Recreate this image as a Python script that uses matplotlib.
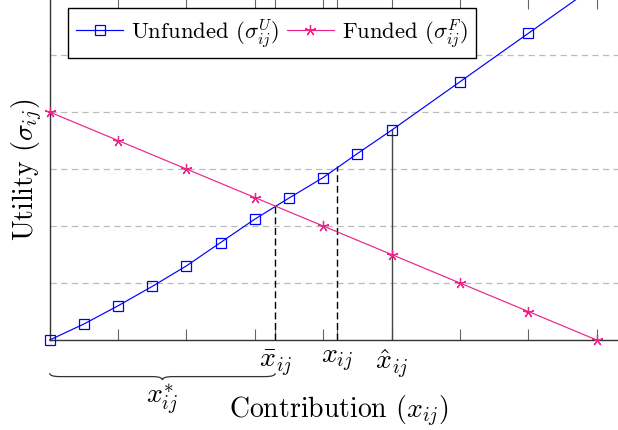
import matplotlib
matplotlib.use("Agg")
import matplotlib.pyplot as plt
from matplotlib.path import Path
from matplotlib.patches import PathPatch

# data
unfunded_x = [0, 0.5, 1, 1.5, 2, 2.5, 3, 3.5, 4, 4.5, 5, 6, 7, 8]
unfunded_y = [0, 0.28, 0.6, 0.94, 1.30, 1.71, 2.12, 2.49, 2.85, 3.27, 3.68, 4.53, 5.38, 6.23]
funded_x = [0, 1, 2, 3, 4, 5, 6, 7, 8]
funded_y = [4, 3.5, 3, 2.5, 2, 1.5, 1, 0.5, 0]

tick_pos = [1, 2, 3, 3.3, 4, 4.2, 5, 6, 7, 8]
tick_labels = ["", "", "", r"$\bar{x}_{ij}$", "", r"$x_{ij}$", r"$\hat{x}_{ij}$", "", "", ""]
grid_y = [1, 2, 3, 4, 5]

x_bar, x_bar_top = 3.3, 2.35
x_mid, x_mid_top = 4.2, 3.05
x_hat, x_hat_top = 5.0, 3.68

plt.rcParams["font.family"] = "serif"
plt.rcParams["font.serif"] = ["cmr10"]
plt.rcParams["mathtext.fontset"] = "cm"
plt.rcParams["axes.formatter.use_mathtext"] = True

BLUE = "#0000ff"
PINK = "#ee2288"

fig = plt.figure(figsize=(6.18, 4.31), dpi=100)
ax = fig.add_axes([0.0803, 0.2088, 0.935, 0.7935])
ax.set_xlim(0, 8.45)
ax.set_ylim(0, 6)

for s in ax.spines.values():
    s.set_color("#333333")
    s.set_linewidth(1.0)

ax.set_yticks(grid_y)
ax.yaxis.grid(True, ls=(0, (5, 3.5)), color="#bbbbbb", lw=0.9)
ax.tick_params(axis="y", length=0, labelleft=False)

ax.set_xticks(tick_pos)
ax.set_xticklabels(tick_labels)
ax.tick_params(axis="x", direction="in", length=8, width=0.8, color="#666666",
               top=True, pad=5, labelsize=20)
for t in ax.xaxis.get_major_ticks():
    if t.get_loc() in (3, 4):
        t.tick1line.set_color("#b5b5b5")

# guide lines
ax.plot([x_bar, x_bar], [0, x_bar_top], color="black", lw=1.0, ls=(0, (5, 2.6)), zorder=2)
ax.plot([x_mid, x_mid], [0, x_mid_top], color="black", lw=1.0, ls=(0, (5, 2.6)), zorder=2)
ax.plot([x_hat, x_hat], [0, x_hat_top], color="#444444", lw=1.0, zorder=2)

ax.plot(unfunded_x, unfunded_y, color=BLUE, lw=0.85, marker="s", ms=7.8,
        mfc="none", mec=BLUE, mew=0.9, clip_on=False, zorder=3,
        label=r"Unfunded $(\sigma^{U}_{ij})$")
ax.plot(funded_x, funded_y, color=PINK, lw=0.85, marker=(5, 2, 0), ms=8,
        mec=PINK, mew=0.9, clip_on=False, zorder=3,
        label=r"Funded $(\sigma^{F}_{ij})$")

leg = ax.legend(loc="upper left", bbox_to_anchor=(68 / 618, 1 - 9.3 / 431),
                bbox_transform=fig.transFigure, borderaxespad=0, ncol=2,
                fontsize=16.3, fancybox=False, edgecolor="black", framealpha=1,
                handlelength=2.1, handletextpad=0.35, columnspacing=0.3,
                numpoints=1, borderpad=0.35)
leg.get_frame().set_linewidth(1.0)

# brace under 0 .. x_bar
tr = ax.get_xaxis_transform()
x0, x1, y0, h, r = 0.0, x_bar, -0.097, 0.02, 0.15
mid = (x0 + x1) / 2
verts = [(x0, y0), (x0, y0 - h / 2), (x0 + r, y0 - h / 2),
         (mid - r, y0 - h / 2), (mid, y0 - h / 2), (mid, y0 - h),
         (mid, y0 - h / 2), (mid + r, y0 - h / 2),
         (x1 - r, y0 - h / 2), (x1, y0 - h / 2), (x1, y0)]
codes = [Path.MOVETO, Path.CURVE3, Path.CURVE3, Path.LINETO, Path.CURVE3, Path.CURVE3,
         Path.CURVE3, Path.CURVE3, Path.LINETO, Path.CURVE3, Path.CURVE3]
ax.add_patch(PathPatch(Path(verts, codes), transform=tr, fill=False,
                       edgecolor="#333333", lw=0.9, clip_on=False))
ax.text(mid, -0.118, r"$x^{*}_{ij}$", transform=tr, ha="center", va="top", fontsize=20)

fig.text(339 / 618, 13 / 431, r"Contribution $(x_{ij})$", ha="center", va="baseline", fontsize=20)
fig.text(27 / 618, 1 - 170 / 431, r"Utility $(\sigma_{ij})$", ha="center", va="center",
         rotation=90, fontsize=20)

fig.savefig("out.png", dpi=100)
